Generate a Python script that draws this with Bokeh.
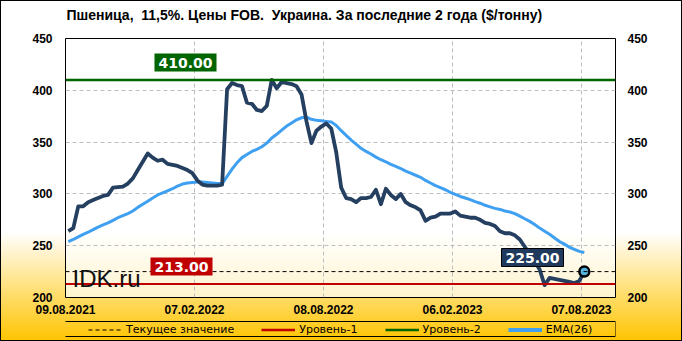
import pandas as pd
from bokeh.plotting import figure
from bokeh.layouts import column
from bokeh.models import (Span, Label, Legend, LegendItem, LinearAxis, FixedTicker,
                          DatetimeTickFormatter, Range1d, BoxAnnotation, ColumnDataSource)
from bokeh.embed import file_html
from bokeh.resources import INLINE

# ---------------- data ----------------
title_text = "Пшеница,\u00a0 11,5%. Цены FOB.\u00a0 Украина. За последние 2 года ($/тонну)"
first_date = "2021-08-13"
price = [264, 267, 288, 288, 292, 294, 296, 298, 299, 306,
         306.5, 307, 310, 315, 323, 331, 339, 335, 332, 333,
         329, 328, 327, 325, 323, 320, 313, 309, 308, 308,
         308, 309, 401, 407, 405, 404, 388, 387, 381, 380,
         385, 410, 402, 408, 407, 406, 404, 396, 370, 349,
         361, 365, 368, 363, 340, 306, 296, 295, 292, 296,
         296, 297, 304, 290, 305, 299, 295, 300, 292, 289,
         287, 284, 274, 277, 278, 281, 281, 281, 283, 279,
         278, 277, 277, 275, 272, 271, 269, 264, 262, 262,
         260, 256, 249, 242, 235, 227, 212, 219, 218, 217,
         216, 215, 214, 216, 225]
ema26 = [254, 256, 258.5, 261, 263, 265.5, 268, 270, 272, 274.5,
         277, 279, 281, 283.5, 287, 290, 293, 296, 299, 301,
         303, 305, 307.5, 309.5, 310.5, 311, 311.5, 311.5, 311, 310.5,
         310, 310, 317, 324, 330, 335, 338, 341, 343, 345.5,
         349, 354, 357.5, 361.5, 365.5, 368.5, 371.5, 373.5, 374, 372,
         371, 370.5, 370, 369.5, 366, 361, 356.5, 352, 348, 344,
         341, 338.5, 335.5, 333, 331, 328.5, 326.5, 324.5, 322, 320,
         318, 316, 313, 310.5, 308, 306, 304, 301.5, 299.5, 297.5,
         296, 294.5, 292.5, 291, 289, 287.5, 286, 285, 283.5, 282.5,
         281, 278.5, 276, 273.5, 270.5, 267, 264, 261, 257.5, 254,
         251.5, 248.5, 246.5, 244.5, 243.5]
x_tick_labels = ["09.08.2021", "07.02.2022", "08.08.2022", "06.02.2023", "07.08.2023"]
y_ticks = [200, 250, 300, 350, 400, 450]
level1 = 213.0
level2 = 410.0
current_value = 225.0
x_start = "2021-08-09"
x_end = "2023-09-24"
legend_labels = ["Текущее значение", "Уровень-1", "Уровень-2", "EMA(26)"]
watermark = "IDK.ru"

# ---------------- styles ----------------
W = 682
HEAD_H, MAIN_H, FOOT_H = 30, 290, 21
BL, BR = 65, 67
PRICE_C = "#243F60"
EMA_C = "#3FA0F2"
RED = "#C00000"
GREEN = "#006400"
NAVY = "#1F3A5C"
AX_FONT = "Liberation Sans"
NAN = float("nan")


def blank_fig(h):
    f = figure(width=W, height=h, output_backend="svg", toolbar_location=None,
               x_range=Range1d(0, 1), y_range=Range1d(0, 1),
               x_axis_location=None, y_axis_location=None,
               min_border_left=BL, min_border_right=BR,
               min_border_top=0, min_border_bottom=0)
    f.xgrid.visible = False
    f.ygrid.visible = False
    f.outline_line_color = None
    f.background_fill_alpha = 0
    f.border_fill_alpha = 0
    return f


# ---------------- header (title) ----------------
head = blank_fig(HEAD_H)
head.add_layout(Label(x=1, y=HEAD_H - 14, x_units="screen", y_units="screen", text=title_text,
                      text_font=AX_FONT, text_font_style="bold", text_font_size="14px",
                      text_color="black", text_baseline="middle"))

# ---------------- main chart ----------------
dates = pd.date_range(first_date, periods=len(price), freq="7D")
src = ColumnDataSource(dict(date=dates, price=price, ema=ema26))
tick_ms = [pd.to_datetime(t, format="%d.%m.%Y").timestamp() * 1000 for t in x_tick_labels]

p = figure(width=W, height=MAIN_H, x_axis_type="datetime", output_backend="svg",
           toolbar_location=None,
           x_range=Range1d(pd.Timestamp(x_start), pd.Timestamp(x_end)),
           y_range=Range1d(y_ticks[0], y_ticks[-1]),
           min_border_left=BL, min_border_right=BR, min_border_top=8, min_border_bottom=23)
p.border_fill_alpha = 0
p.background_fill_color = "white"
p.background_fill_alpha = 0.68
p.outline_line_color = "black"
p.outline_line_width = 1

p.xaxis.ticker = FixedTicker(ticks=tick_ms)
fmt = "%d.%m.%Y"
p.xaxis.formatter = DatetimeTickFormatter(days=fmt, months=fmt, years=fmt, hours=fmt,
                                          hourmin=fmt, minutes=fmt, minsec=fmt,
                                          seconds=fmt, milliseconds=fmt, microseconds=fmt)
p.yaxis.ticker = FixedTicker(ticks=y_ticks)
right_axis = LinearAxis(ticker=FixedTicker(ticks=y_ticks))
p.add_layout(right_axis, "right")

for ax in [p.xaxis[0], p.yaxis[0], right_axis]:
    ax.axis_line_color = None
    ax.major_tick_line_color = None
    ax.minor_tick_line_color = None
    ax.major_tick_out = 0
    ax.major_tick_in = 0
    ax.major_label_text_font = AX_FONT
    ax.major_label_text_font_style = "bold"
    ax.major_label_text_font_size = "12px"
    ax.major_label_text_color = "black"
p.xaxis.major_label_standoff = 7
p.yaxis.major_label_standoff = 13
right_axis.major_label_standoff = 12

for g in [p.xgrid[0], p.ygrid[0]]:
    g.grid_line_color = "#BDBDBD"
    g.grid_line_dash = "4 3"
    g.grid_line_width = 1
p.ygrid.ticker = FixedTicker(ticks=y_ticks)

p.add_layout(Span(location=current_value, dimension="width", line_color="black",
                  line_dash="4 3", line_width=1))
p.add_layout(Span(location=level1, dimension="width", line_color=RED, line_width=2))
p.add_layout(Span(location=level2, dimension="width", line_color=GREEN, line_width=2.5))

p.line("date", "ema", source=src, line_color=EMA_C, line_width=3)
p.line("date", "price", source=src, line_color=PRICE_C, line_width=3.8, line_join="round")
p.scatter(x=dates[-1:], y=price[-1:], size=10, fill_color="#55B4E0",
          line_color="black", line_width=2.5)


def box_label(txt, x, y, fill):
    return Label(x=x, y=y, x_units="screen", y_units="screen", text=txt,
                 text_color="white", text_font="DejaVu Sans", text_font_style="bold",
                 text_font_size="14px", text_align="center", text_baseline="middle",
                 background_fill_color=fill, padding=4)


p.add_layout(Label(x=7, y=19, x_units="screen", y_units="screen", text=watermark,
                   text_font="Liberation Sans", text_font_size="24px",
                   text_color="#111111", text_baseline="alphabetic"))
p.add_layout(box_label(f"{level2:.2f}", 120, 235, GREEN))
p.add_layout(box_label(f"{level1:.2f}", 116, 31, RED))
cur = box_label(f"{current_value:.2f}", 467, 40, NAVY)
cur.border_line_color = "black"
p.add_layout(cur)

# ---------------- footer (legend) ----------------
foot = blank_fig(FOOT_H)
r_cur = foot.line(x=[NAN], y=[NAN], line_color="black", line_dash="4 3", line_width=1)
r_l1 = foot.line(x=[NAN], y=[NAN], line_color=RED, line_width=2.5)
r_l2 = foot.line(x=[NAN], y=[NAN], line_color=GREEN, line_width=2.5)
r_ema = foot.line(x=[NAN], y=[NAN], line_color=EMA_C, line_width=4)
legend = Legend(items=[LegendItem(label=legend_labels[0], renderers=[r_cur]),
                       LegendItem(label=legend_labels[1], renderers=[r_l1]),
                       LegendItem(label=legend_labels[2], renderers=[r_l2]),
                       LegendItem(label=legend_labels[3], renderers=[r_ema])],
                orientation="horizontal", location=(23, 5),
                border_line_color=None, background_fill_alpha=0,
                label_text_font="DejaVu Sans", label_text_font_size="11px",
                label_text_color="black",
                glyph_width=34, glyph_height=13, label_height=13, label_standoff=4,
                spacing=27, padding=1, margin=0)
foot.add_layout(legend, "center")
foot.add_layout(BoxAnnotation(left=-1, right=550, bottom=5, top=20,
                              left_units="screen", right_units="screen",
                              bottom_units="screen", top_units="screen",
                              fill_alpha=0, line_color="black", line_width=1, line_alpha=1))

layout = column(head, p, foot, spacing=0)
layout.styles = {"background": "linear-gradient(to bottom, #ffffff 0%, #ffffff 68%, #FFC400 100%)",
                 "outline": "1px solid black", "outline-offset": "-1px"}

open("out.html", "w").write(file_html(layout, INLINE))
